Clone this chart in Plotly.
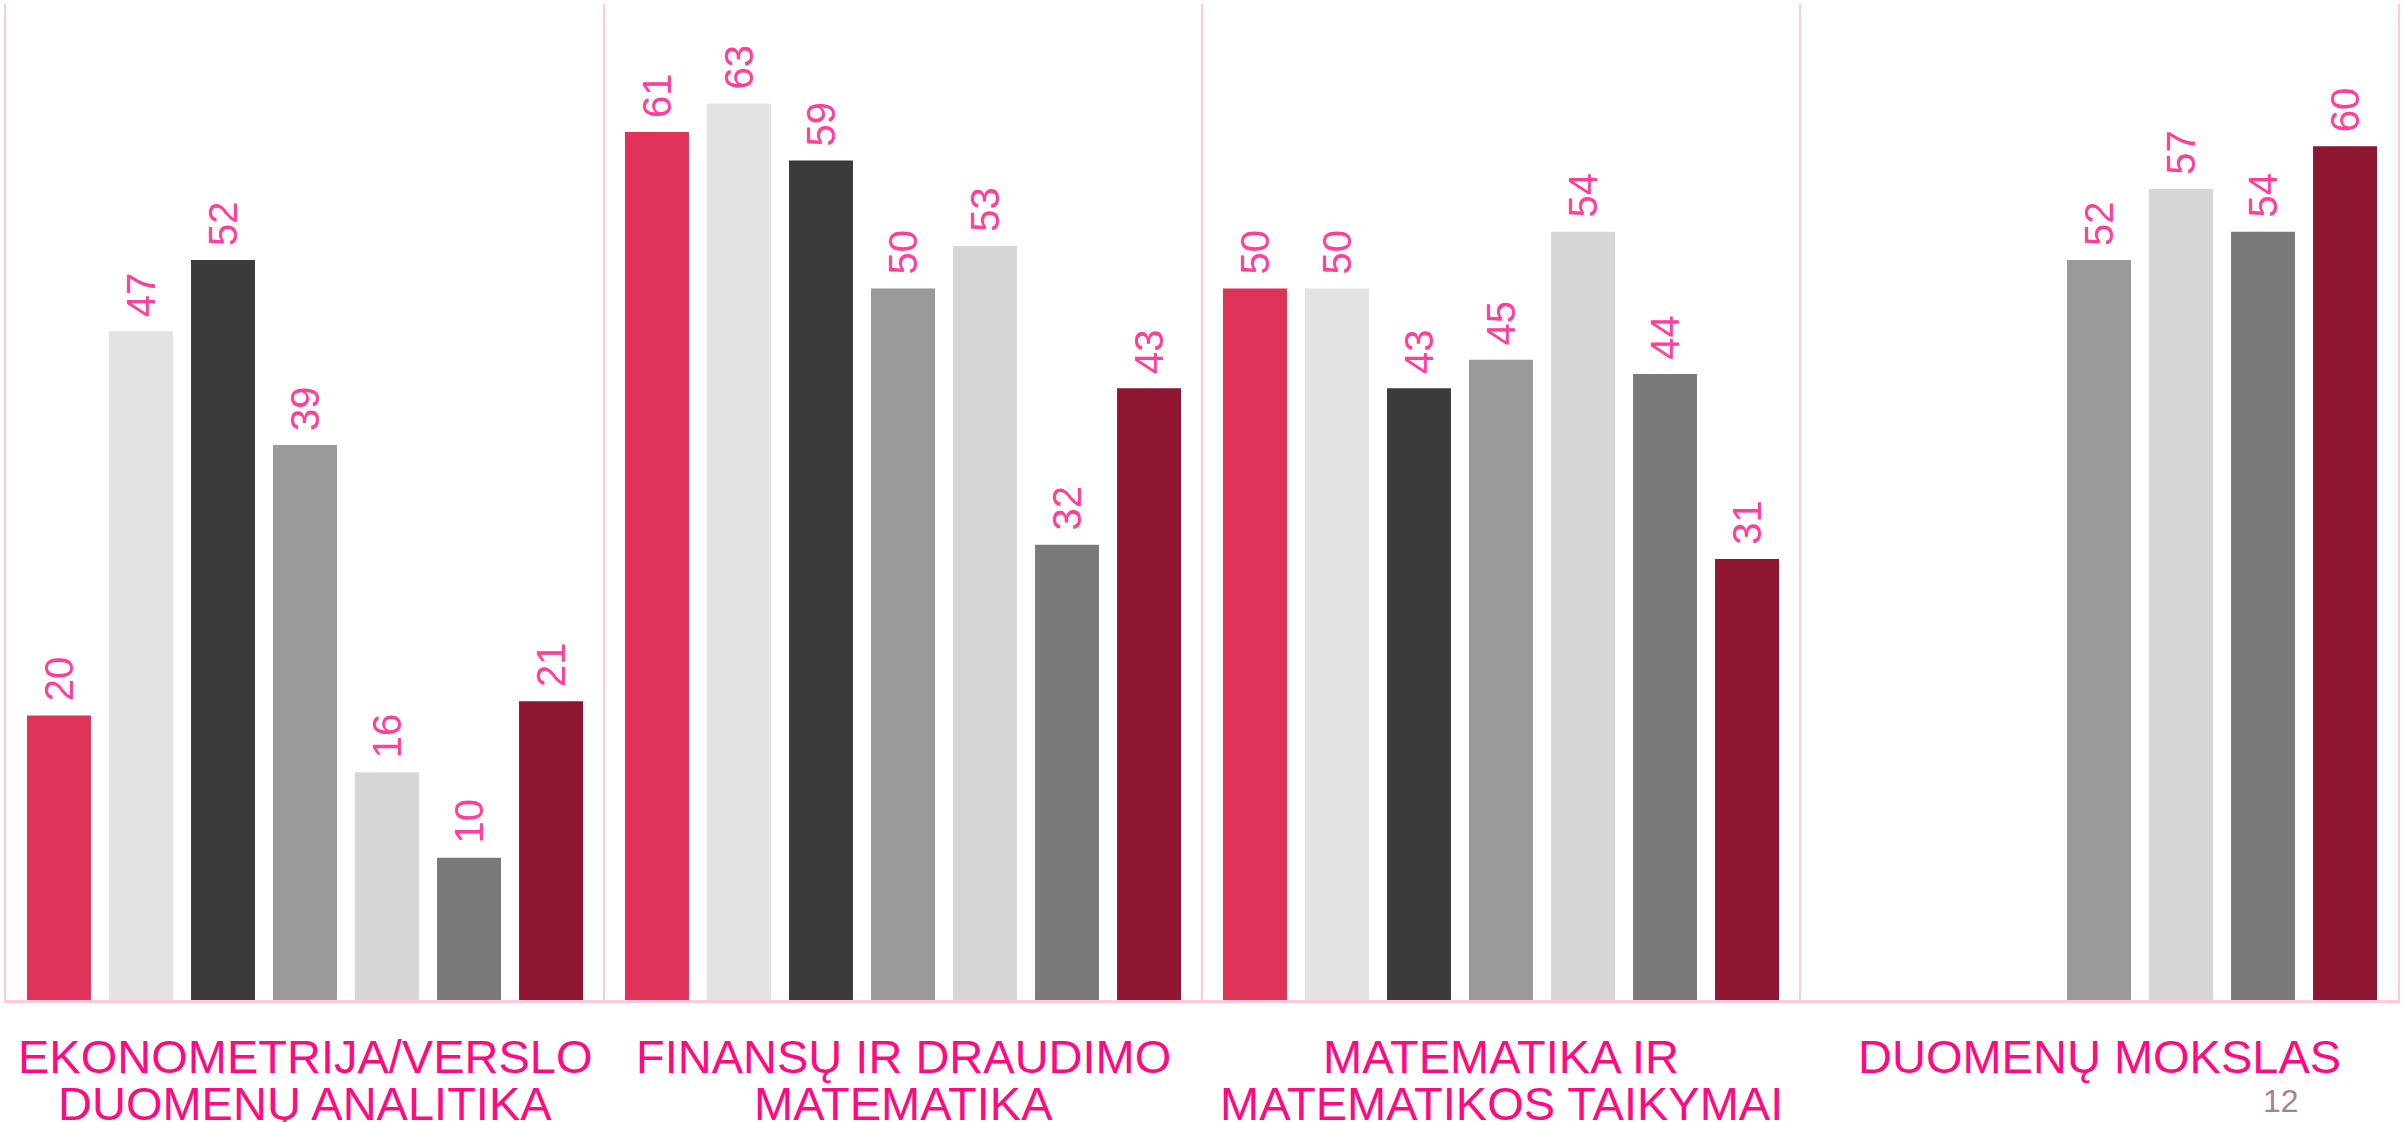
import plotly.graph_objects as go

# ---- data ----
categories = [
    "EKONOMETRIJA/VERSLO\nDUOMENŲ ANALITIKA",
    "FINANSŲ IR DRAUDIMO\nMATEMATIKA",
    "MATEMATIKA IR\nMATEMATIKOS TAIKYMAI",
    "DUOMENŲ MOKSLAS",
]
series_names = ["S1", "S2", "S3", "S4", "S5", "S6", "S7"]
s1 = [20, 61, 50, None]
s2 = [47, 63, 50, None]
s3 = [52, 59, 43, None]
s4 = [39, 50, 45, 52]
s5 = [16, 53, 54, 57]
s6 = [10, 32, 44, 54]
s7 = [21, 43, 31, 60]
series_values = [s1, s2, s3, s4, s5, s6, s7]
colors = ["#E0335A", "#E3E3E3", "#3B3B3A", "#9A9A9A", "#D6D6D6", "#7A7A7A", "#8E1630"]
page_number = "12"

PINK_LINE = "#FFC8DF"
VALUE_PINK = "#FF3D9A"
CAT_PINK = "#FF0A80"
FONT = "Liberation Sans, Arial, sans-serif"

fig = go.Figure()
for name, vals, col in zip(series_names, series_values, colors):
    fig.add_trace(go.Bar(
        x=categories, y=vals, name=name,
        marker=dict(color=col, line=dict(width=0)),
        text=[("" if v is None else "\u00a0" + str(v)) for v in vals],
        textposition="outside", textangle=-90,
        textfont=dict(family=FONT, size=40, color=VALUE_PINK),
        constraintext="none", cliponaxis=False,
        hoverinfo="skip",
    ))

# category labels, one annotation per line for tight line spacing
annotations = []
for cat in categories:
    lines = cat.split("\n")
    for i, line in enumerate(lines):
        annotations.append(dict(
            x=cat, xref="x", y=-0.057 - i * 0.047, yref="paper",
            text=line, showarrow=False, xanchor="center", yanchor="middle",
            font=dict(family=FONT, size=47, color=CAT_PINK),
        ))
annotations.append(dict(
    x=0.951, xref="paper", y=-0.101, yref="paper", text=page_number,
    showarrow=False, xanchor="center", yanchor="middle",
    font=dict(family=FONT, size=32, color="#A8818F"),
))

fig.update_layout(
    width=2405, height=1122,
    margin=dict(l=6, r=7, t=4, b=122),
    paper_bgcolor="white", plot_bgcolor="white",
    barmode="group", bargap=0.04, bargroupgap=0.22,
    showlegend=False,
    annotations=annotations,
    xaxis=dict(
        showticklabels=False, ticks="", tickson="boundaries",
        showgrid=True, gridcolor=PINK_LINE, gridwidth=2,
        showline=True, linecolor=PINK_LINE, linewidth=3,
        zeroline=False, fixedrange=True,
    ),
    yaxis=dict(
        range=[0, 70], showticklabels=False, ticks="", showgrid=False,
        zeroline=False, showline=True, mirror=True,
        linecolor=PINK_LINE, linewidth=2, fixedrange=True,
    ),
)

fig.write_html(
    "out.html",
    config={"displayModeBar": False, "staticPlot": True},
    post_script="document.body.style.margin='0';document.body.style.overflow='hidden';",
)
